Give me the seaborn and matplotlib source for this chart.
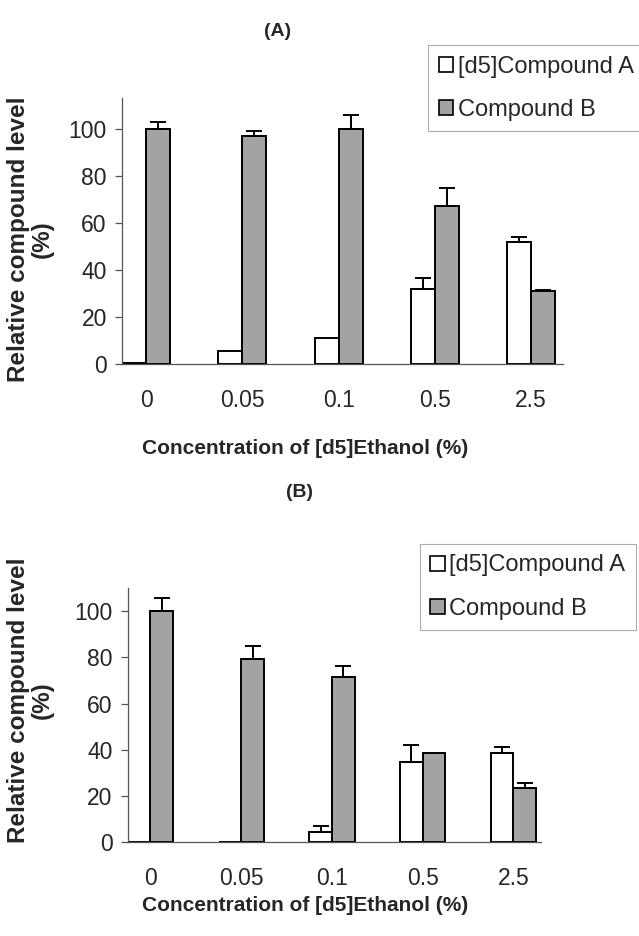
import pandas as pd
import seaborn as sns
import matplotlib
matplotlib.use("Agg")
import matplotlib.pyplot as plt
from matplotlib.patches import Patch

sns.set_theme(style="white")
plt.rcParams["font.family"] = ["Liberation Sans", "DejaVu Sans"]

# Data
concentrations = ["0", "0.05", "0.1", "0.5", "2.5"]
series_names = ["[d5]Compound A", "Compound B"]

# Panel A
a_compound_a = [0.5, 5.5, 11.2, 31.8, 51.8]
a_compound_a_err = [0, 0, 0, 4.9, 2.1]
a_compound_b = [100, 97.1, 100, 67.1, 31.0]
a_compound_b_err = [2.9, 1.8, 5.7, 7.8, 0.5]

# Panel B
b_compound_a = [0, 0, 4.7, 34.7, 38.5]
b_compound_a_err = [0, 0, 2.3, 7.5, 2.9]
b_compound_b = [100, 79.3, 71.6, 38.5, 23.6]
b_compound_b_err = [5.4, 5.4, 4.5, 0, 2.0]

palette = {"[d5]Compound A": "white", "Compound B": "#a3a3a3"}


def make_df(vals_a, vals_b):
    return pd.DataFrame({
        "conc": concentrations * 2,
        "compound": [series_names[0]] * 5 + [series_names[1]] * 5,
        "value": vals_a + vals_b,
    })


def draw_panel(ax, df, errs, ymax, xmax):
    sns.barplot(data=df, x="conc", y="value", hue="compound", order=concentrations,
                hue_order=series_names, palette=palette, edgecolor="black",
                linewidth=1.4, width=0.5, errorbar=None, ax=ax, legend=False)
    # upward-only error bars on top of each bar
    for cont, err in zip(ax.containers, errs):
        for bar, e in zip(cont, err):
            if e <= 0:
                continue
            xc = bar.get_x() + bar.get_width() / 2
            ax.errorbar(xc, bar.get_height(), yerr=[[0], [e]], fmt="none",
                        ecolor="black", elinewidth=1.4, capsize=6, capthick=1.4)
    ax.set_xlim(-0.25, xmax)
    ax.set_ylim(0, ymax)
    ax.set_yticks([0, 20, 40, 60, 80, 100])
    ax.set_xlabel("")
    ax.set_ylabel("")
    sns.despine(ax=ax)
    for s in ["left", "bottom"]:
        ax.spines[s].set_color("#555555")
        ax.spines[s].set_linewidth(0.9)
    ax.tick_params(axis="y", left=True, length=5, width=0.9, color="#555555",
                   labelsize=16.5, pad=6)
    ax.tick_params(axis="x", bottom=False, labelsize=16.5, pad=12)


fig = plt.figure(figsize=(6.39, 9.36), dpi=100)
ax1 = fig.add_axes([0.191, 0.611, 0.690, 0.284])
ax2 = fig.add_axes([0.200, 0.100, 0.646, 0.272])

draw_panel(ax1, make_df(a_compound_a, a_compound_b), [a_compound_a_err, a_compound_b_err], 113, 4.33)
draw_panel(ax2, make_df(b_compound_a, b_compound_b), [b_compound_a_err, b_compound_b_err], 110, 4.30)

# legends
handles = [Patch(facecolor=palette[n], edgecolor="black", linewidth=1.2) for n in series_names]
for ax, anchor in [(ax1, (0.670, 0.952)), (ax2, (0.657, 0.419))]:
    leg = ax.legend(handles, series_names, loc="upper left", bbox_to_anchor=anchor,
                    bbox_transform=fig.transFigure, frameon=True, fancybox=False,
                    edgecolor="#999999", fontsize=17, handlelength=0.6, handleheight=0.6,
                    handletextpad=0.2, labelspacing=0.9, borderpad=0.45,
                    borderaxespad=0)
    leg.get_frame().set_linewidth(0.8)

# panel titles, axis labels
fig.text(0.435, 0.966, "(A)", ha="center", va="center", fontsize=14, fontweight="bold")
fig.text(0.469, 0.474, "(B)", ha="center", va="center", fontsize=14, fontweight="bold")
for y in [0.521, 0.033]:
    fig.text(0.478, y, "Concentration of [d5]Ethanol (%)", ha="center", va="center",
             fontsize=15, fontweight="bold")
for y in [0.744, 0.252]:
    fig.text(0.047, y, "Relative compound level\n(%)", ha="center", va="center",
             rotation=90, fontsize=17.5, fontweight="bold", multialignment="center",
             linespacing=1.05)

fig.savefig("out.png", dpi=100)
